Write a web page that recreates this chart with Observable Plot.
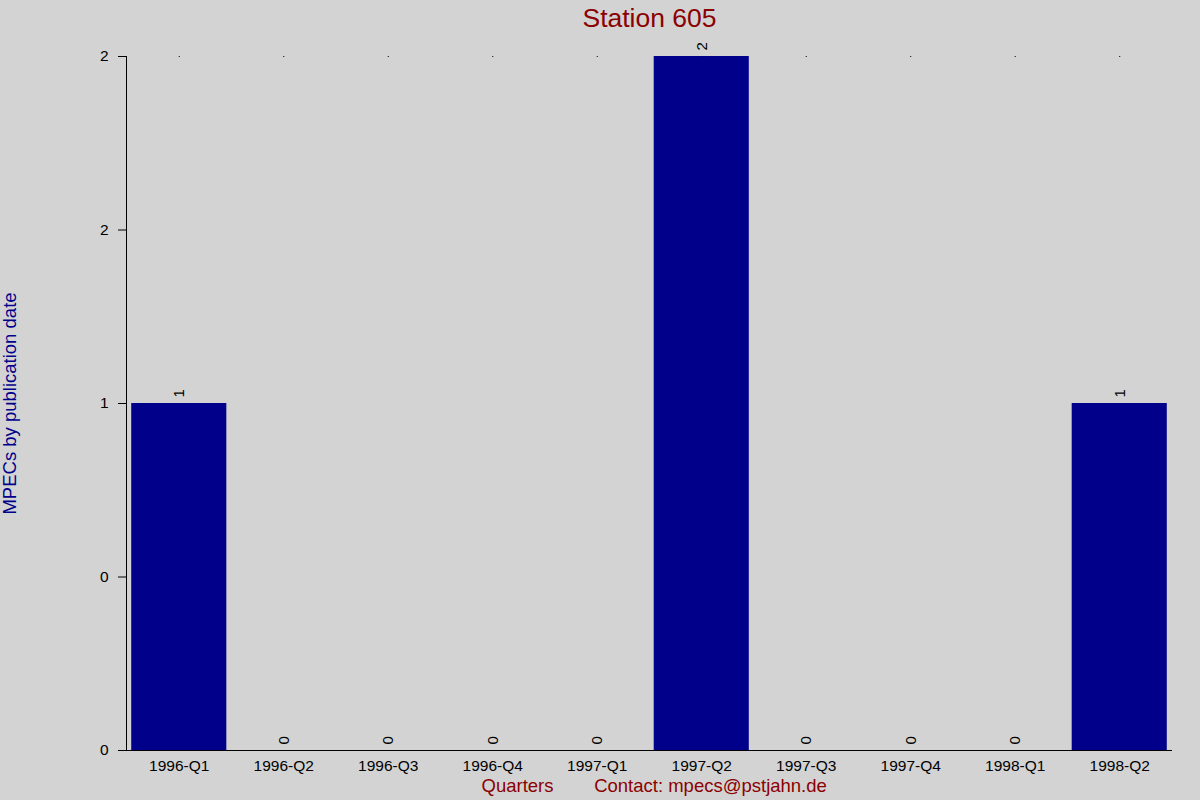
<!DOCTYPE html>
<html>
<head>
<meta charset="utf-8">
<script src="https://cdn.jsdelivr.net/npm/d3@7"></script>
<script src="https://cdn.jsdelivr.net/npm/@observablehq/plot@0.6"></script>
<style>
  html, body { margin: 0; padding: 0; background: #d3d3d3; }
  svg { display: block; font-family: "Liberation Sans", Arial, sans-serif; }
</style>
</head>
<body>
<div id="chart"></div>
<script>
const quarters = ["1996-Q1","1996-Q2","1996-Q3","1996-Q4","1997-Q1","1997-Q2","1997-Q3","1997-Q4","1998-Q1","1998-Q2"];
const counts = [1,0,0,0,0,2,0,0,0,1];
const yTicks = [0, 0.5, 1, 1.5, 2];
const yTickLabels = ["0","0","1","2","2"];
const title = "Station 605";
const yLabel = "MPECs by publication date";
const xLabel = "Quarters";
const contact = "Contact: mpecs@pstjahn.de";

const data = quarters.map((q, i) => ({q, v: counts[i]}));
const darkred = "#8b0000";
const darkblue = "#00008b";

const chart = Plot.plot({
  width: 1200,
  height: 800,
  marginLeft: 126,
  marginRight: 28,
  marginTop: 56,
  marginBottom: 50,
  style: {background: "#d3d3d3", fontFamily: "'Liberation Sans', Arial, sans-serif", color: "#000"},
  x: {domain: quarters, paddingInner: 0.09, paddingOuter: 0.05, round: false, label: null},
  y: {domain: [0, 2], label: null},
  marks: [
    Plot.barY(data, {x: "q", y: "v", fill: darkblue}),
    Plot.frame({anchor: "left", stroke: "#000"}),
    Plot.ruleY([0], {stroke: "#000", insetLeft: -8}),
    Plot.axisY({ticks: yTicks, tickFormat: (d) => yTickLabels[yTicks.indexOf(d)], tickSize: 8, tickPadding: 10, fontSize: 15.5, label: null, stroke: "#000"}),
    Plot.axisX({anchor: "bottom", tickSize: 0, tickPadding: 9, fontSize: 15.5, label: null}),
    Plot.axisX({anchor: "top", tickSize: 1, tickFormat: () => "", label: null, stroke: "#000"}),
    Plot.text(data, {x: "q", y: "v", text: (d) => String(d.v), rotate: -90, textAnchor: "start", lineAnchor: "middle", dy: -6, fontSize: 15, fill: "#000"}),
    Plot.text([title], {frameAnchor: "top", dy: -38, fontSize: 26.5, fill: darkred, lineAnchor: "middle"}),
    Plot.text([yLabel], {frameAnchor: "left", dx: -116, rotate: -90, textAnchor: "middle", fontSize: 18.5, fill: darkblue, lineAnchor: "middle"}),
    Plot.text([xLabel], {frameAnchor: "bottom", dx: -132, dy: 36, fontSize: 18.5, fill: darkred, lineAnchor: "middle"}),
    Plot.text([contact], {frameAnchor: "bottom", dx: 61, dy: 36, fontSize: 18.5, fill: darkred, lineAnchor: "middle"})
  ]
});
document.getElementById("chart").appendChild(chart);
</script>
</body>
</html>
